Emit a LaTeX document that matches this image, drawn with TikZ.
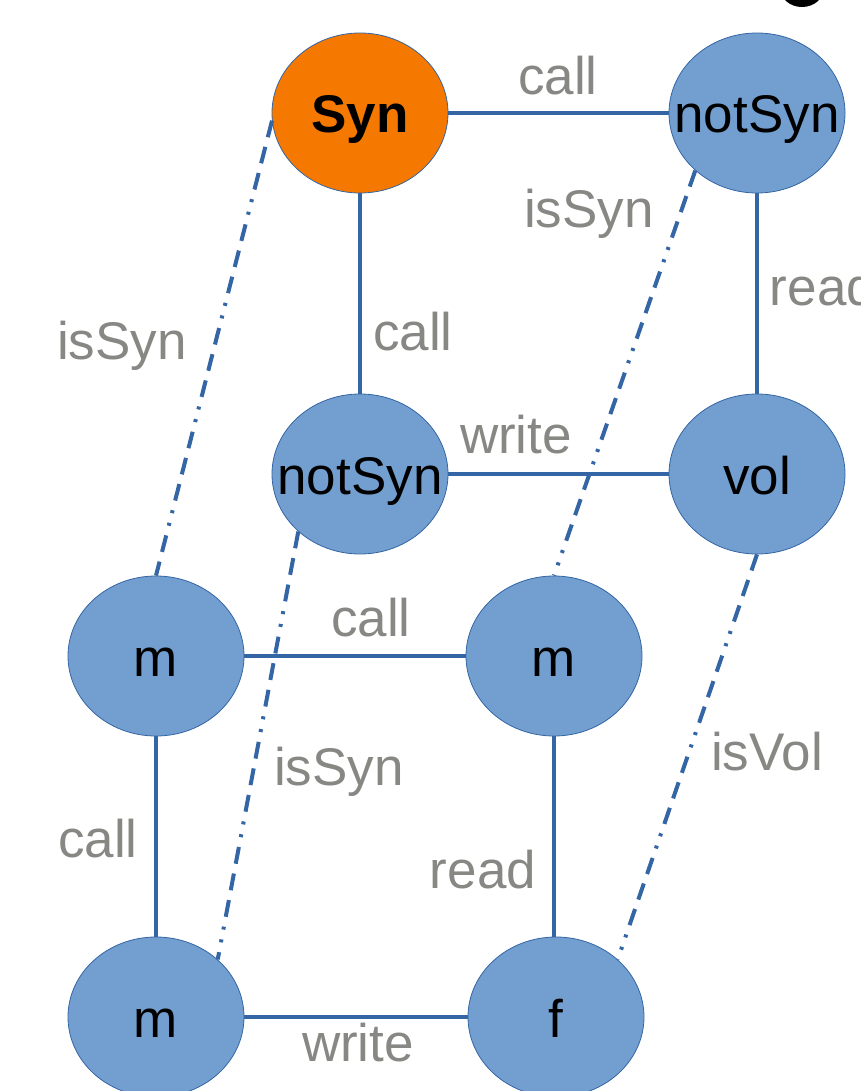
\documentclass[tikz,border=0pt]{standalone}
\usepackage{fontspec}
\setmainfont{Liberation Sans}
\usepackage{tikz}
\usetikzlibrary{shapes.geometric}
\definecolor{EdgeBlue}{HTML}{3465A4}
\definecolor{NodeBlue}{HTML}{729FCF}
\definecolor{SynOrange}{HTML}{F57900}
\definecolor{LabelGray}{HTML}{878783}

\begin{document}
\begin{tikzpicture}[x=1pt,y=-1pt,
    obj/.style={ellipse,draw=EdgeBlue,line width=.8pt,fill=NodeBlue,
                minimum width=176pt,minimum height=160pt,inner ysep=0pt,
                inner xsep=-40pt,text height=40pt,text depth=0pt,
                font=\fontsize{53}{60}\selectfont},
    rel/.style={EdgeBlue,line width=4pt},
    isrel/.style={rel,dash pattern=on 17pt off 10pt on 17pt off 10pt on 17pt off 10pt
                  on 3pt off 10pt on 3pt off 10pt},
    lbl/.style={anchor=base,inner sep=0pt,text=LabelGray,
                font=\fontsize{53}{60}\selectfont}]
    \clip (0,0) rectangle (860,1091);
    \useasboundingbox (0,0) rectangle (860,1091);
    \fill (802,-12) ellipse (22 and 19);
    % upper square
    \node[obj,fill=SynOrange] (syn) at (360,113) {\textbf{Syn}};
    \node[obj] (notsynA) at (757,113) {notSyn};
    \node[obj] (notsynB) at (360,474) {notSyn};
    \node[obj] (vol) at (757,474) {vol};
    % lower square
    \node[obj] (mA) at (156,656) {m};
    \node[obj] (mB) at (554,656) {m};
    \node[obj] (mC) at (156,1017) {m};
    \node[obj] (f) at (556,1017) {f};
    \draw[rel] (syn)--(notsynA);
    \draw[rel] (syn)--(notsynB);
    \draw[rel] (notsynA)--(vol);
    \draw[rel] (notsynB)--(vol);
    \draw[rel] (mA)--(mB);
    \draw[rel] (mA)--(mC);
    \draw[rel] (mB)--(mB|-f.north);
    \draw[rel] (mC)--(f);
    \draw[isrel] (syn.185)--(mA.north);
    \draw[isrel] (notsynA.223)--(mB.north);
    \draw[isrel] (notsynB.223)--(mC.43);
    \draw[isrel] (vol.south)--(f.43);
    % labels
    \node[lbl] (lcallA) at (558,95) {call};
    \node[lbl] (lissynA) at (589,228) {isSyn};
    \node[lbl] (lreadA) at (823,305) {read};
    \node[lbl] (lissynB) at (122,359) {isSyn};
    \node[lbl] (lcallB) at (413,350) {call};
    \node[lbl] (lwriteA) at (516,453) {write};
    \node[lbl] (lcallC) at (371,636) {call};
    \node[lbl] (lissynC) at (339,785) {isSyn};
    \node[lbl] (lisvol) at (767,770) {isVol};
    \node[lbl] (lcallD) at (98,857) {call};
    \node[lbl] (lreadB) at (483,888) {read};
    \node[lbl] (lwriteB) at (358,1061) {write};
  \end{tikzpicture}
\end{document}
